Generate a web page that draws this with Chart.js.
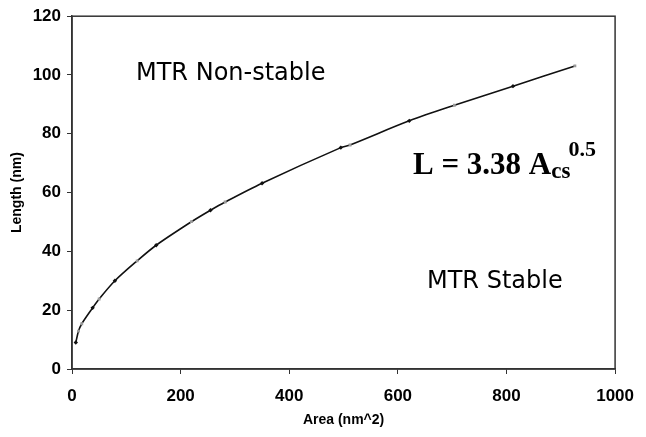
<!DOCTYPE html>
<html>
<head>
<meta charset="utf-8">
<style>
  html, body { margin: 0; padding: 0; background: #fff; }
  #wrap { width: 646px; height: 437px; }
</style>
<script src="https://cdn.jsdelivr.net/npm/chart.js@4/dist/chart.umd.min.js"></script>
</head>
<body>
<div id="wrap"><canvas id="myChart" width="646" height="437"></canvas></div>
<script>
// measured points (area nm^2, length nm)
var darkArea = [7, 38, 79, 155, 255, 350, 495, 621, 812];
var darkLength = [9, 20.8, 30, 42.1, 54, 63.2, 75.3, 84.4, 96.2];
var grayArea = [12, 18, 50, 120, 220, 282, 512, 704, 926];
var grayLength = [12.9, 15.4, 23.8, 36.8, 50.1, 56.8, 76.2, 89.7, 103.1];

var xTicks = [0, 200, 400, 600, 800, 1000];
var yTicks = [0, 20, 40, 60, 80, 100, 120];

function toPoints(xs, ys) {
  return xs.map((x, i) => ({ x: x, y: ys[i] }));
}

var darkPts = toPoints(darkArea, darkLength);
var grayPts = toPoints(grayArea, grayLength);
var allPts = darkPts.concat(grayPts).sort((a, b) => a.x - b.x);

// frame round the plot + the text labels
var extras = {
  id: "extras",
  beforeDatasetsDraw(chart) {
    let c = chart.ctx, a = chart.chartArea;
    c.save();
    c.strokeStyle = "#333";
    c.lineWidth = 1.5;
    c.strokeRect(a.left, a.top, a.right - a.left, a.bottom - a.top);
    c.restore();
  },
  afterDraw(chart) {
    let c = chart.ctx;
    c.save();
    c.fillStyle = "#000";
    c.textBaseline = "alphabetic";
    c.font = "24px 'DejaVu Sans'";
    c.fillText("MTR Non-stable", 136, 80);
    c.fillText("MTR Stable", 427, 288);

    c.font = "bold 31px 'Liberation Serif'";
    let main = "L = 3.38 A";
    c.fillText(main, 413, 174);
    let w = c.measureText(main).width;
    c.font = "bold 23px 'Liberation Serif'";
    c.fillText("cs", 413 + w, 178);
    let w2 = c.measureText("cs").width;
    c.font = "bold 22px 'Liberation Serif'";
    c.fillText("0.5", 413 + w + w2 - 2, 156);
    c.restore();
  },
};

var ctx = document.getElementById("myChart").getContext("2d");

var myChart = new Chart(ctx, {
  type: "scatter",
  data: {
    datasets: [
      {
        label: "dark",
        data: darkPts,
        pointStyle: "rectRot",
        pointRadius: 2.2,
        backgroundColor: "#111",
        borderColor: "#111",
        borderWidth: 0,
        order: 1,
      },
      {
        label: "gray",
        data: grayPts,
        pointStyle: "rect",
        pointRadius: 2,
        backgroundColor: "#999",
        borderColor: "#999",
        borderWidth: 0,
        order: 2,
      },
      {
        label: "fit",
        type: "line",
        data: allPts,
        showLine: true,
        borderColor: "#111",
        borderWidth: 1.6,
        pointRadius: 0,
        tension: 0.3,
        fill: false,
        order: 3,
      },
    ],
  },
  options: {
    responsive: false,
    animation: false,
    events: [],
    layout: { padding: { left: 0, right: 19, top: 14, bottom: 0 } },
    plugins: {
      legend: { display: false },
      tooltip: { enabled: false },
    },
    scales: {
      x: {
        type: "linear",
        min: 0,
        max: 1000,
        afterFit: (s) => { s.height = 68; },
        afterBuildTicks: (s) => { s.ticks = xTicks.map((v) => ({ value: v })); },
        grid: { display: true, drawOnChartArea: false, color: "#333", tickLength: 5, tickWidth: 1 },
        border: { display: true, color: "#333", width: 1.5 },
        ticks: {
          color: "#000",
          padding: 12,
          maxRotation: 0,
          callback: (v) => String(v),
          font: { family: "'Liberation Sans'", size: 17, weight: "bold" },
        },
        title: {
          display: true,
          text: "Area (nm^2)",
          color: "#000",
          padding: { top: 0, bottom: 8 },
          font: { family: "'Liberation Sans'", size: 14, weight: "bold" },
        },
      },
      y: {
        type: "linear",
        min: 0,
        max: 120,
        afterFit: (s) => { s.width = 72; },
        afterBuildTicks: (s) => { s.ticks = yTicks.map((v) => ({ value: v })); },
        grid: { display: true, drawOnChartArea: false, color: "#333", tickLength: 5, tickWidth: 1 },
        border: { display: true, color: "#333", width: 1.5 },
        ticks: {
          color: "#000",
          padding: 6,
          callback: (v) => String(v),
          font: { family: "'Liberation Sans'", size: 17, weight: "bold" },
        },
        title: {
          display: true,
          text: "Length (nm)",
          color: "#000",
          padding: { top: 9, bottom: 0 },
          font: { family: "'Liberation Sans'", size: 14, weight: "bold" },
        },
      },
    },
  },
  plugins: [extras],
});
</script>
</body>
</html>
